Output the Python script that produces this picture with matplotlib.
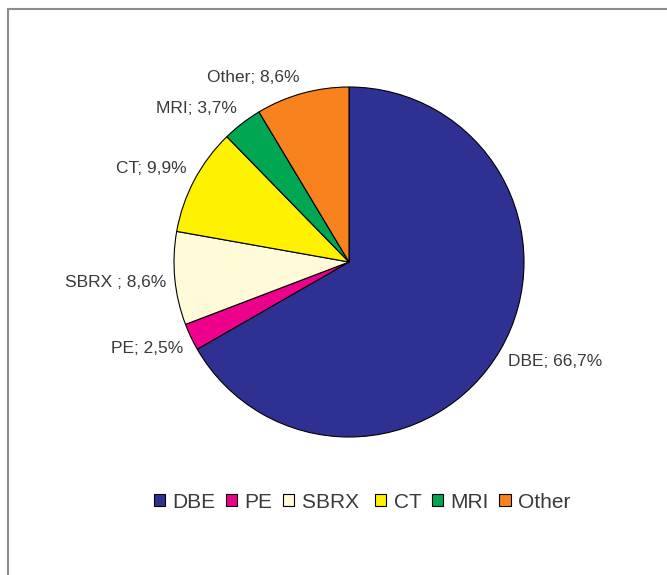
import matplotlib
matplotlib.use("Agg")
import matplotlib.pyplot as plt
import matplotlib.patches as patches
import numpy as np

plt.rcParams['font.family'] = ['Liberation Sans', 'DejaVu Sans']

#data
categories = ["DBE", "PE", "SBRX ", "CT", "MRI", "Other"]
shares = [66.7, 2.5, 8.6, 9.9, 3.7, 8.6]
label_names = ["DBE", "PE", "SBRX ", "CT", "MRI", "Other"]
colors = ["#2E3192", "#EC008C", "#FFFAD8", "#FFF200", "#00A651", "#F7821E"]

labels = [n + "; " + ("%.1f" % v).replace(".", ",") + "%" for n, v in zip(label_names, shares)]

fig = plt.figure(figsize=(6.67, 5.75), dpi=100)

#pie area: center (349, 262) px, radius 175 px
ax = fig.add_axes([174/667, 138/575, 350/667, 350/575])
wedges, texts = ax.pie(shares, labels=labels, colors=colors, startangle=90,
                       counterclock=False, labeldistance=1.05,
                       wedgeprops=dict(edgecolor="black", linewidth=0.8),
                       textprops=dict(fontsize=12.5, color="#3a3a3a"))
ax.set_xlim(-1, 1)
ax.set_ylim(-1, 1)
ax.set_aspect("equal")

#excel-like label anchoring: labels above the pie sit on top of the point, below hang under it
for w, t in zip(wedges, texts):
    mid = np.deg2rad((w.theta1 + w.theta2) / 2)
    s = np.sin(mid)
    if s > 0.3:
        t.set_va("bottom")
    elif s < -0.3:
        t.set_va("top")
    else:
        t.set_va("center")
        t.set_y(t.get_position()[1] - 0.02)

#legend below the pie
leg = fig.legend(wedges, categories, loc="center", bbox_to_anchor=(362/667, 1 - 502/575),
                 ncol=6, frameon=False, fontsize=15, handlelength=0.55, handleheight=0.55,
                 handletextpad=0.35, columnspacing=0.5, labelcolor="#3a3a3a")

#gray frame, cut off at right and bottom
fig.patches.append(patches.Rectangle((8/667, -0.05), 1.1, 1 - 9/575 + 0.05,
                                     transform=fig.transFigure, fill=False,
                                     edgecolor="#8c8c8c", linewidth=1.5))

fig.savefig("out.png", dpi=100)
